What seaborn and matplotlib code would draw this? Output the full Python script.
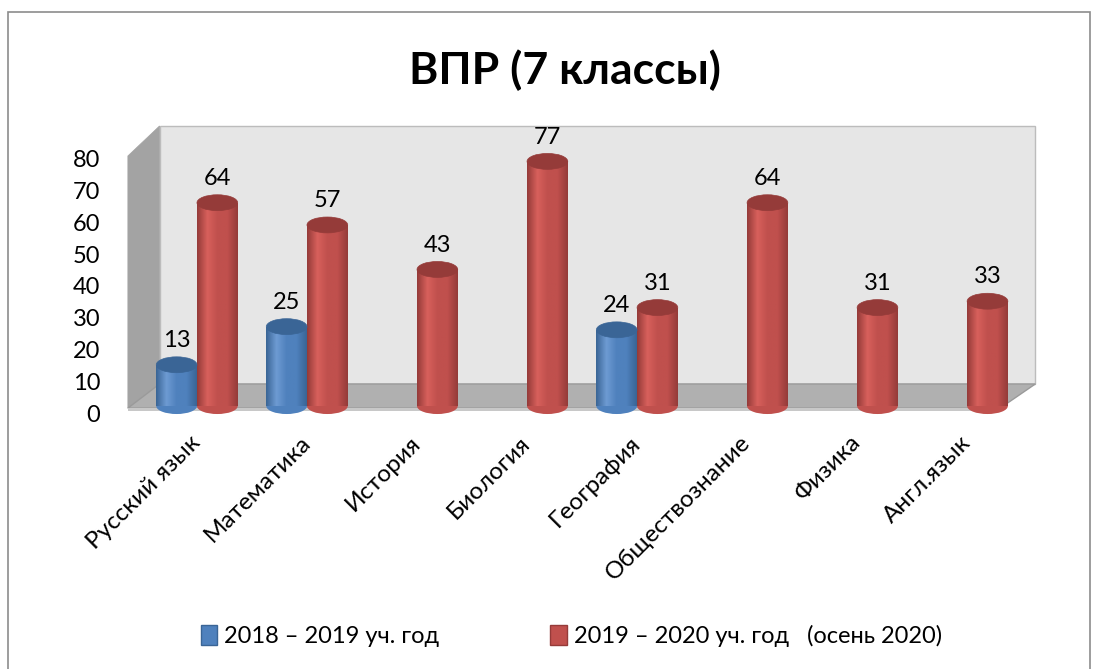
# ВПР (7 классы): столбики в стиле цилиндров Excel,
# нарисованные через seaborn + немного matplotlib для "3D" стенок.

import matplotlib

matplotlib.use('Agg')

import matplotlib.pyplot as plt
import matplotlib.patches as mpatches
import matplotlib.transforms as mtransforms
from matplotlib.colors import LinearSegmentedColormap
import numpy as np
import pandas as pd
import seaborn as sns


subjects = [
    'Русский язык', 'Математика', 'История', 'Биология',
    'География', 'Обществознание', 'Физика', 'Англ.язык',
]
year_1819 = [13, 25, None, None, 24, None, None, None]
year_1920 = [64, 57, 43, 77, 31, 64, 31, 33]
series_names = ['2018 – 2019 уч. год', '2019 – 2020 уч. год   (осень 2020)']
y_ticks = [0, 10, 20, 30, 40, 50, 60, 70, 80]

colors = ['#4F81BD', '#C0504D']
dark_colors = ['#3A6596', '#953B39']
light_colors = ['#6E9BD3', '#D8605C']


rows = []
for name, values in zip(series_names, [year_1819, year_1920]):
    for subj, v in zip(subjects, values):
        if v is not None:
            rows.append({'Предмет': subj, 'Период': name, 'Значение': v})
df = pd.DataFrame(rows)

sns.set_theme(style='white')
plt.rcParams['font.family'] = ['Lato', 'Noto Sans', 'DejaVu Sans']

fig = plt.figure(figsize=(11.03, 6.69), dpi=100)

# рамка вокруг диаграммы
fig.patches.append(mpatches.Rectangle(
    (8 / 1103, -0.02), 1082 / 1103, 1.02 - 12 / 669,
    transform=fig.transFigure, fill=False,
    edgecolor='#8c8c8c', linewidth=1.2,
))

ax = fig.add_axes([0.1287, 0.393, 0.798, 0.380])
ax.patch.set_visible(False)

# задняя стенка, боковая стенка и пол
back = mpatches.Polygon(
    [(0.02, 0.087), (1.015, 0.087), (1.015, 1.102), (0.02, 1.102)],
    closed=True, transform=ax.transAxes, clip_on=False,
    facecolor='#e6e6e6', edgecolor='#bcbcbc', linewidth=1, zorder=0,
)
side = mpatches.Polygon(
    [(-0.016, -0.008), (0.02, 0.087), (0.02, 1.102), (-0.016, 0.984)],
    closed=True, transform=ax.transAxes, clip_on=False,
    facecolor='#a3a3a3', edgecolor='#a3a3a3', linewidth=0.5, zorder=0,
)
floor = mpatches.Polygon(
    [(-0.016, -0.008), (0.975, -0.008), (1.015, 0.087), (0.02, 0.087)],
    closed=True, transform=ax.transAxes, clip_on=False,
    facecolor='#b0b0b0', edgecolor='#9a9a9a', linewidth=1, zorder=0,
)
floor_edge = mpatches.Polygon(
    [(-0.016, -0.008), (0.975, -0.008), (0.975, -0.02), (-0.016, -0.02)],
    closed=True, transform=ax.transAxes, clip_on=False,
    facecolor='#c8c8c8', edgecolor='none', zorder=0,
)
for p in [back, side, floor, floor_edge]:
    ax.add_patch(p)

sns.barplot(
    data=df,
    x='Предмет',
    y='Значение',
    hue='Период',
    order=subjects,
    hue_order=series_names,
    palette=colors,
    width=0.74,
    saturation=1,
    edgecolor='none',
    legend=False,
    ax=ax,
)

ax.set_ylim(0, 80)
ax.set_xlim(-0.5, len(subjects) - 0.5)

ell_h = 5.0
for cont, base, dark, light in zip(ax.containers, colors, dark_colors, light_colors):
    cmap = LinearSegmentedColormap.from_list(
        'cyl', [dark, light, base, base, dark],
    )
    grad = np.linspace(0, 1, 64).reshape(1, -1)
    for bar in cont:
        h = bar.get_height()
        if not np.isfinite(h):
            continue
        x0 = bar.get_x()
        w = bar.get_width()
        xc = x0 + w / 2
        bar.set_zorder(2)
        # нижнее скругление цилиндра
        ax.add_patch(mpatches.Ellipse(
            (xc, 0), w, ell_h, facecolor=base, edgecolor='none',
            clip_on=False, zorder=1.9,
        ))
        img = ax.imshow(
            grad, aspect='auto', cmap=cmap,
            extent=(x0, x0 + w, 0, h), zorder=2.1,
        )
        img.set_clip_path(bar)
        # верх цилиндра
        ax.add_patch(mpatches.Ellipse(
            (xc, h), w, ell_h, facecolor=dark, edgecolor=dark,
            linewidth=0.5, clip_on=False, zorder=2.5,
        ))
        ax.annotate(
            f'{h:.0f}', (xc, h), xytext=(0, 10),
            textcoords='offset points', ha='center', va='bottom',
            fontsize=17, color='black', annotation_clip=False,
        )

ax.set_xlim(-0.5, len(subjects) - 0.5)
ax.set_ylim(0, 80)
ax.set_yticks(y_ticks)
ax.set_yticklabels([str(t) for t in y_ticks], fontsize=17, color='black')
ax.set_xticks(range(len(subjects)))
ax.set_xticklabels(
    subjects, rotation=45, ha='right', va='center',
    rotation_mode='anchor', fontsize=17.5, color='black',
)
ax.tick_params(axis='y', length=0, pad=30)
ax.tick_params(axis='x', length=0, pad=24)
ax.set_xlabel('')
ax.set_ylabel('')
sns.despine(ax=ax, left=True, bottom=True)

# подписи оси Y стоят на передней плоскости, чуть ниже цилиндров
shift = mtransforms.ScaledTranslation(0, -7 / 100, fig.dpi_scale_trans)
for lab in ax.get_yticklabels():
    lab.set_transform(lab.get_transform() + shift)

fig.text(
    0.512, 1 - 70 / 669, 'ВПР (7 классы)',
    ha='center', va='center', fontsize=32, fontweight='bold',
    color='black',
)

handles = [
    mpatches.Patch(facecolor=c, edgecolor=d, label=n)
    for c, d, n in zip(colors, dark_colors, series_names)
]
fig.legend(
    handles=handles,
    loc='center',
    bbox_to_anchor=(0.518, 1 - 636 / 669),
    ncol=2,
    frameon=False,
    fontsize=17,
    handlelength=0.7,
    handleheight=0.9,
    handletextpad=0.3,
    labelcolor='black',
    columnspacing=4.7,
)

plt.savefig('out.png', dpi=100)
plt.close()
